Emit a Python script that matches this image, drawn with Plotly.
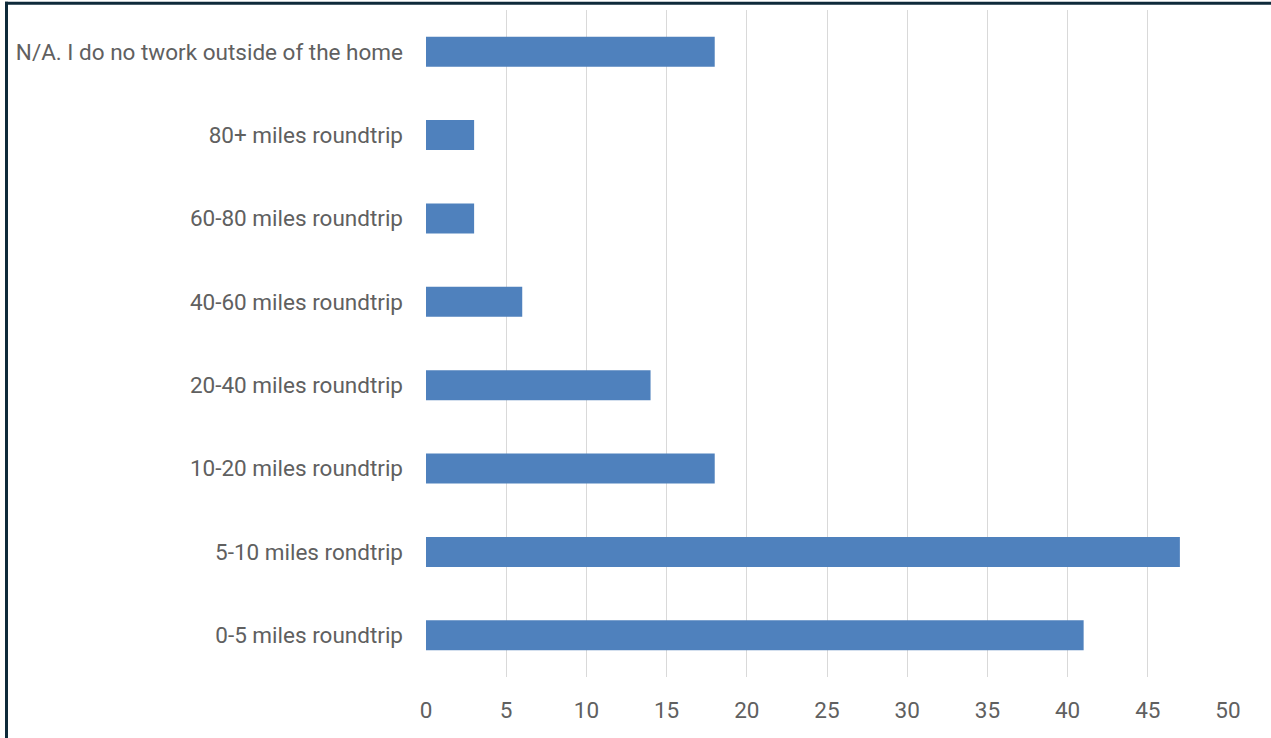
import plotly.graph_objects as go

categories = [
    "0-5 miles roundtrip",
    "5-10 miles rondtrip",
    "10-20 miles roundtrip",
    "20-40 miles roundtrip",
    "40-60 miles roundtrip",
    "60-80 miles roundtrip",
    "80+ miles roundtrip",
    "N/A. I do no twork outside of the home",
]
values = [41, 47, 18, 14, 6, 3, 3, 18]
x_ticks = [0, 5, 10, 15, 20, 25, 30, 35, 40, 45, 50]

W, H = 1271, 738
L, R, T, B = 426, 43, 10, 61
pw, ph = W - L - R, H - T - B

def px(x):
    return (x - L) / pw

def py(y):
    return (H - B - y) / ph

fig = go.Figure(go.Bar(
    y=categories, x=values, orientation="h",
    marker=dict(color="#4f81bd", line=dict(width=0)),
))

border = "#0e2a3a"
fig.update_layout(
    width=W, height=H,
    margin=dict(l=L, r=R, t=T, b=B, autoexpand=False),
    paper_bgcolor="white", plot_bgcolor="white",
    bargap=0.64,
    showlegend=False,
    font=dict(family="Roboto", size=22.5, color="#606060"),
    xaxis=dict(range=[0, 50], tickvals=x_ticks, showgrid=True, gridcolor="#d9d9d9",
               gridwidth=1, zeroline=False, showline=False, ticks="",
               ticklabelstandoff=17, fixedrange=True),
    yaxis=dict(showgrid=False, zeroline=False, showline=False, ticks="",
               ticklabelstandoff=22, fixedrange=True),
    shapes=[
        dict(type="line", xref="paper", yref="paper", x0=px(5), x1=px(W + 5),
             y0=py(3.2), y1=py(3.2), line=dict(color=border, width=3)),
        dict(type="line", xref="paper", yref="paper", x0=px(6.5), x1=px(6.5),
             y0=py(1.7), y1=py(H + 5), line=dict(color=border, width=3)),
    ],
)

fig.write_html("out.html", config={"displayModeBar": False},
               post_script="document.body.style.margin='0';document.body.style.overflow='hidden';")
